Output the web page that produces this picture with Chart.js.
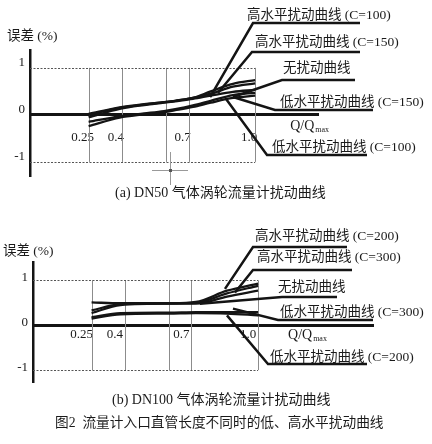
<!DOCTYPE html>
<html>
<head>
<meta charset="utf-8">
<script src="https://cdn.jsdelivr.net/npm/chart.js@4.4.1/dist/chart.umd.min.js"></script>
<style>
  html, body { margin: 0; padding: 0; background: #fff; }
  body { width: 432px; height: 444px; position: relative; overflow: hidden;
         font-family: "Liberation Serif", "Noto Sans CJK SC", serif; color: #1a1a1a; }
  #wrapA { position: absolute; left: 0; top: 0; width: 432px; height: 200px; }
  #wrapB { position: absolute; left: 0; top: 210px; width: 432px; height: 185px; }
  .cap { position: absolute; font-size: 14px; line-height: 16px; white-space: nowrap; }
  .mark { position: absolute; background: #999; }
</style>
</head>
<body>
<div id="wrapA"><canvas id="chartA"></canvas></div>
<div id="wrapB"><canvas id="chartB"></canvas></div>

<div class="cap" style="left:115px; top:185px;">(a) DN50 气体涡轮流量计扰动曲线</div>
<div class="cap" style="left:112px; top:392px;">(b) DN100 气体涡轮流量计扰动曲线</div>
<div class="cap" style="left:55px; top:415px; font-size:13.7px;">图2&nbsp;&nbsp;流量计入口直管长度不同时的低、高水平扰动曲线</div>

<!-- small print registration cross under chart (a) -->
<div class="mark" style="left:152px; top:170px; width:36px; height:1px;"></div>
<div class="mark" style="left:170px; top:152px; width:1px; height:33px;"></div>
<div class="mark" style="left:169px; top:169px; width:3px; height:3px; background:#555;"></div>

<script>
// --- Data --- //

// (a) DN50
const qA = [0.25, 0.39, 0.5, 0.59, 0.64, 0.72, 0.8, 0.9, 1.0];
const aHigh100 = [0.02, 0.16, 0.23, 0.27, 0.30, 0.36, 0.50, 0.66, 0.74];
const aHigh150 = [0.00, 0.15, 0.22, 0.27, 0.30, 0.36, 0.45, 0.60, 0.67];
const aNone    = [-0.05, 0.13, 0.21, 0.26, 0.29, 0.34, 0.41, 0.49, 0.53];
const aLow150  = [-0.15, -0.03, 0.03, 0.08, 0.12, 0.20, 0.30, 0.42, 0.47];
const aLow100  = [-0.24, -0.06, 0.01, 0.06, 0.10, 0.17, 0.26, 0.36, 0.41];
const namesA = ['高水平扰动曲线 (C=100)', '高水平扰动曲线 (C=150)', '无扰动曲线',
                '低水平扰动曲线 (C=150)', '低水平扰动曲线 (C=100)'];
// where each leader touches the curves (Q/Qmax, error %)
const anchorsA = [[0.797, 0.38], [0.833, 0.47], [0.90, 0.38], [0.90, 0.38], [0.869, 0.34]];

// (b) DN100
const qB = [0.25, 0.38, 0.6, 0.72, 0.86, 1.0];
const bHigh200 = [0.33, 0.47, 0.49, 0.52, 0.77, 0.93];
const bHigh300 = [0.51, 0.49, 0.49, 0.50, 0.71, 0.88];
const bNone    = [0.27, 0.45, 0.48, 0.48, 0.64, 0.77];
const bLow300  = [0.18, 0.27, 0.28, 0.29, 0.29, 0.29];
const bLow200  = [0.15, 0.24, 0.26, 0.27, 0.26, 0.22];
const namesB = ['高水平扰动曲线 (C=200)', '高水平扰动曲线 (C=300)', '无扰动曲线',
                '低水平扰动曲线 (C=300)', '低水平扰动曲线 (C=200)'];
const anchorsB = [[0.851, 0.81], [0.896, 0.73], [0.738, 0.48], [0.887, 0.37], [0.86, 0.22]];

// axes
const xTicks = [0.25, 0.4, 0.7, 1.0];
const xTickLabels = ['0.25', '0.4', '0.7', '1.0'];
const xGrid = [0.25, 0.4, 0.6, 0.7, 1.0];
const yTicks = [-1, 0, 1];
const yTickLabels = ['-1', '0', '1'];

// --- Layout of the callout labels (canvas pixels) --- //
const layoutA = [
  { tx: 247, ty: 15,  ux0: 253, ux1: 360, uy: 23 },
  { tx: 255, ty: 42,  ux0: 252, ux1: 360, uy: 52 },
  { tx: 283, ty: 68,  ux0: 282, ux1: 355, uy: 80 },
  { tx: 280, ty: 102, ux0: 275, ux1: 373, uy: 110 },
  { tx: 272, ty: 147, ux0: 267, ux1: 367, uy: 155 }
];
const layoutB = [
  { tx: 255, ty: 26,  ux0: 253, ux1: 347, uy: 37 },
  { tx: 257, ty: 47,  ux0: 253, ux1: 352, uy: 60 },
  { tx: 278, ty: 77,  ux0: 282, ux1: 337, uy: 87 },
  { tx: 280, ty: 102, ux0: 278, ux1: 373, uy: 110 },
  { tx: 270, ty: 147, ux0: 268, ux1: 367, uy: 154 }
];

const FONT = '"Liberation Serif", "Noto Sans CJK SC", serif';
const INK = '#141414';
const TEXT = '#1a1a1a';

function toPoints(q, vals) {
  return vals.map((v, i) => ({ x: q[i], y: v }));
}

// grid box, callouts and axis captions
function framePlugin(names, anchors, layout, o) {
  return {
    id: 'frame',
    beforeDatasetsDraw(chart) {
      const { ctx, scales: { x, y } } = chart;
      const yTop = y.getPixelForValue(1);
      const yBot = y.getPixelForValue(-1);
      ctx.save();
      ctx.strokeStyle = '#8c8c8c';
      ctx.lineWidth = 1;
      xGrid.forEach(v => {
        const px = Math.round(x.getPixelForValue(v)) + 0.5;
        ctx.beginPath();
        ctx.moveTo(px, yTop);
        ctx.lineTo(px, yBot);
        ctx.stroke();
      });
      ctx.setLineDash([2, 1.5]);
      ctx.strokeStyle = '#555';
      [yTop, yBot].forEach(py => {
        const p = Math.round(py) + 0.5;
        ctx.beginPath();
        ctx.moveTo(x.left, p);
        ctx.lineTo(x.getPixelForValue(1.0), p);
        ctx.stroke();
      });
      ctx.restore();
    },
    afterDraw(chart) {
      const { ctx, scales: { x, y }, chartArea } = chart;
      ctx.save();
      // leaders + underlines
      ctx.strokeStyle = INK;
      ctx.lineWidth = 2.5;
      layout.forEach((l, i) => {
        const ax = x.getPixelForValue(anchors[i][0]);
        const ay = y.getPixelForValue(anchors[i][1]);
        ctx.beginPath();
        ctx.moveTo(l.ux1, l.uy);
        ctx.lineTo(l.ux0, l.uy);
        ctx.lineTo(ax, ay);
        ctx.stroke();
      });
      // callout texts
      ctx.fillStyle = TEXT;
      ctx.font = '13.5px ' + FONT;
      ctx.textBaseline = 'middle';
      ctx.textAlign = 'left';
      layout.forEach((l, i) => ctx.fillText(names[i], l.tx, l.ty));
      // y axis caption
      ctx.fillText('误差 (%)', chartArea.left + o.yCapDx, chartArea.top + o.yCapDy);
      // Q/Qmax
      const qx = x.getPixelForValue(1.0) + o.qDx;
      const qy = y.getPixelForValue(0) + o.qDy;
      ctx.font = '14px ' + FONT;
      ctx.fillText('Q/Q', qx, qy);
      const w = ctx.measureText('Q/Q').width;
      ctx.font = '8px ' + FONT;
      ctx.fillText('max', qx + w + 1, qy + 4);
      ctx.restore();
    }
  };
}

function makeChart(id, sets, names, anchors, layout, o) {
  const datasets = sets.map((s, i) => ({
    label: names[i],
    data: toPoints(s.q, s.v),
    borderColor: INK,
    borderWidth: 2.3,
    pointRadius: 0,
    fill: false,
    cubicInterpolationMode: 'monotone'
  }));
  return new Chart(document.getElementById(id).getContext('2d'), {
    type: 'line',
    data: { datasets },
    options: {
      responsive: true,
      maintainAspectRatio: false,
      animation: false,
      layout: { padding: o.padding },
      plugins: { legend: { display: false }, tooltip: { enabled: false } },
      scales: {
        x: {
          type: 'linear',
          position: { y: 0 },
          min: o.xMin,
          max: o.xMax,
          grid: { display: false, drawTicks: false },
          border: { color: INK, width: 3 },
          afterBuildTicks: s => { s.ticks = xTicks.map(v => ({ value: v })); },
          ticks: {
            autoSkip: false,
            maxRotation: 0,
            padding: o.xTickPad,
            labelOffset: o.xLabelOffset,
            color: TEXT,
            font: { family: FONT, size: 13 },
            callback: (v, i) => xTickLabels[i]
          }
        },
        y: {
          type: 'linear',
          position: 'left',
          min: o.yMin,
          max: o.yMax,
          grid: { display: false, drawTicks: false },
          border: { color: INK, width: 2.5 },
          afterBuildTicks: s => { s.ticks = yTicks.map(v => ({ value: v })); },
          afterFit: s => { s.width = o.axisLeft; },
          ticks: {
            padding: 5,
            labelOffset: o.yLabelOffset,
            color: TEXT,
            font: { family: FONT, size: 13 },
            callback: (v, i) => yTickLabels[i]
          }
        }
      }
    },
    plugins: [framePlugin(names, anchors, layout, o)]
  });
}

makeChart('chartA',
  [
    { q: qA, v: aHigh100 },
    { q: qA, v: aHigh150 },
    { q: qA, v: aNone },
    { q: qA, v: aLow150 },
    { q: qA, v: aLow100 }
  ],
  namesA, anchorsA, layoutA,
  {
    padding: { top: 50, bottom: 24, left: 0, right: 114 },
    axisLeft: 30, xMin: -0.014, xMax: 1.283, yMin: -1.3, yMax: 1.38,
    xTickPad: 15, xLabelOffset: -6, yLabelOffset: -5,
    yCapDx: -23, yCapDy: -14, qDx: 35, qDy: 11
  });

makeChart('chartB',
  [
    { q: qB, v: bHigh200 },
    { q: qB, v: bHigh300 },
    { q: qB, v: bNone },
    { q: qB, v: bLow300 },
    { q: qB, v: bLow200 }
  ],
  namesB, anchorsB, layoutB,
  {
    padding: { top: 52, bottom: 12, left: 0, right: 59 },
    axisLeft: 33, xMin: -0.014, xMax: 1.518, yMin: -1.27, yMax: 1.41,
    xTickPad: 2, xLabelOffset: -10, yLabelOffset: -3,
    yCapDx: -30, yCapDy: -11, qDx: 30, qDy: 10
  });
</script>
</body>
</html>
